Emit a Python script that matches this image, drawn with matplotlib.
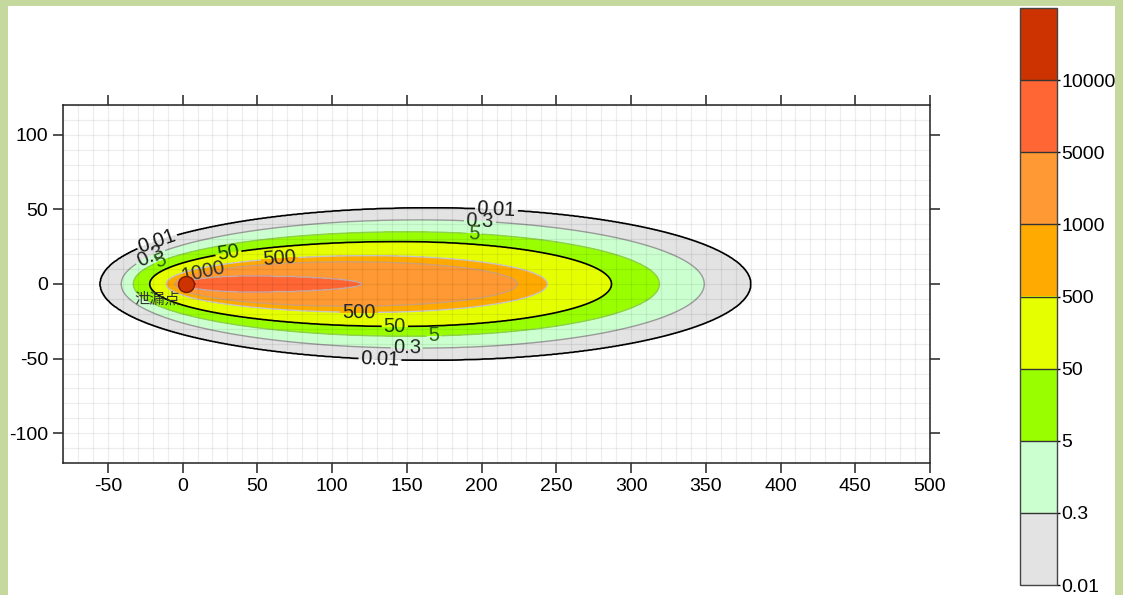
import numpy as np
import matplotlib
matplotlib.use('Agg')
import matplotlib.pyplot as plt
from matplotlib.patches import Rectangle

plt.rcParams['font.family'] = ['Liberation Sans', 'Noto Sans CJK SC', 'DejaVu Sans']
plt.rcParams['axes.unicode_minus'] = False

# concentration levels of the plume and the fill colour above each level
levels = [0.01, 0.3, 5, 50, 500, 1000, 5000, 10000]
level_text = ['0.01', '0.3', '5', '50', '500', '1000', '5000', '10000']
band_colors = ['#e3e3e3', '#ccffd0', '#99ff00', '#e6ff00',
               '#ffaa00', '#ff9933', '#ff6633', '#cc3300']

# outline of each level: upwind tip, downwind tip, x of widest point, half width (m)
x_tip_up = [-55, -41, -33, -22, -11, -5, 0, 1]
x_tip_down = [380, 349, 319, 287, 244, 224, 120, 9]
x_widest = [165, 158, 150, 145, 125, 112, 45, 4]
half_width = [51, 43, 35, 28.5, 19, 15, 5.5, 1.5]

line_colors = ['black', '#9a9a9a', '#8fd14f', 'black', '#c8c8c8', '#d0a070', '#c8a8a0']
label_colors = ['#111111', '#222222', '#2f5f10', '#1a3a0a', '#222222', '#333333']
label_pos = [
    [(210, 51), (132, -51), (-15, 24)],
    [(199, 44), (150, -43), (-20, 15)],
    [(195, 36), (168, -35), (-13, 12)],
    [(31, 17), (142, -28)],
    [(65, 15), (118, -19)],
    [(15, 2)],
]

leak_x, leak_y = 2, 0
leak_name = '泄漏点'

# grid and level-index field (index k sits exactly on the k-th outline)
xs = np.linspace(-80, 500, 1200)
ys = np.linspace(-120, 120, 600)
X, Y = np.meshgrid(xs, ys)
R = []
for xl, xr, xc, b in zip(x_tip_up, x_tip_down, x_widest, half_width):
    a = np.where(X < xc, xc - xl, xr - xc)
    R.append(np.hypot((X - xc) / a, Y / b))
R = np.array(R)
n = len(levels)
idx = 1 - R[0]
for k in range(n):
    inside = R[k] <= 1
    if k < n - 1:
        frac = (1 - R[k]) / np.maximum(R[k + 1] - R[k], 1e-9)
    else:
        frac = 1 - R[k]
    idx = np.where(inside, k + np.clip(frac, 0, 0.999), idx)

fig = plt.figure(figsize=(11.23, 5.95), dpi=100)
fig.patch.set_facecolor('#c5d89d')
fig.patches.append(Rectangle((8 / 1123, 0), 1107 / 1123, 1 - 6 / 595,
                             transform=fig.transFigure, facecolor='white',
                             edgecolor='none', zorder=-10))

ax = fig.add_axes([63 / 1123, 1 - 463 / 595, 867 / 1123, 358 / 595])
cf = ax.contourf(X, Y, idx, levels=np.arange(n + 1), colors=band_colors, zorder=1)

for k, pos in enumerate(label_pos + [[]] * (len(line_colors) - len(label_pos))):
    lw = 1.2 if line_colors[k] == 'black' else 1.0
    cs = ax.contour(X, Y, idx, levels=[k], colors=[line_colors[k]], linewidths=lw, zorder=2)
    if pos:
        ax.clabel(cs, levels=[k], manual=pos, inline=True, inline_spacing=2,
                  fmt=lambda v, t=level_text[k]: t, fontsize=14.5,
                  colors=[label_colors[k]])

ax.plot(leak_x, leak_y, 'o', ms=11.5, mfc='#cc3300', mec='#7a1a00', mew=1, zorder=6)
ax.text(-17, -10, leak_name, fontsize=11, color='#333333', ha='center', va='center',
        family=['Noto Sans CJK SC', 'DejaVu Sans'], zorder=6)

ax.set_xlim(-80, 500)
ax.set_ylim(-120, 120)
ax.set_xticks(np.arange(-50, 501, 50))
ax.set_yticks(np.arange(-100, 101, 50))
ax.set_xticks(np.arange(-80, 501, 10), minor=True)
ax.set_yticks(np.arange(-120, 121, 10), minor=True)
ax.set_axisbelow(False)
ax.grid(which='both', color='black', alpha=0.07, lw=0.9)
ax.tick_params(which='major', direction='out', length=7, width=1.2, color='#333333',
               labelsize=14, top=True, right=True, labeltop=False, labelright=False)
ax.tick_params(which='minor', length=0)
for s in ax.spines.values():
    s.set_linewidth(1.1)
    s.set_color('#222222')

cax = fig.add_axes([1020 / 1123, 1 - 585 / 595, 37 / 1123, 577 / 595])
cb = fig.colorbar(cf, cax=cax, ticks=np.arange(n), drawedges=True)
cb.ax.set_yticklabels(level_text)
cb.ax.tick_params(length=2, width=1, labelsize=14, pad=1)
cb.outline.set_edgecolor('#444444')
cb.outline.set_linewidth(1.0)
cb.dividers.set_color('#333333')
cb.dividers.set_linewidth(1.0)

fig.savefig('out.png', dpi=100, facecolor=fig.get_facecolor())
